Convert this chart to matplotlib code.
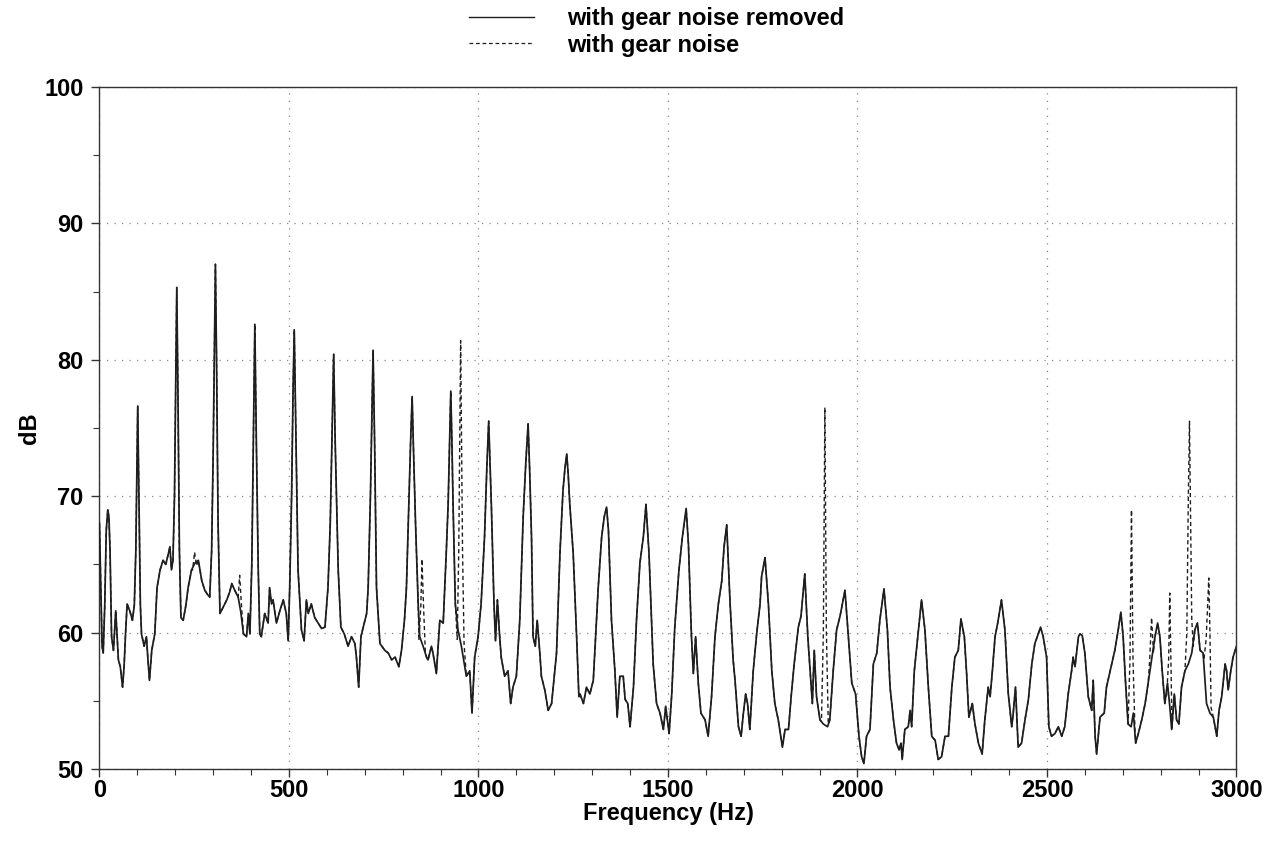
import matplotlib
matplotlib.use("Agg")
import matplotlib.pyplot as plt
from matplotlib.ticker import MultipleLocator
from matplotlib.lines import Line2D

# ---------------- data ----------------
freq_removed = [
    0, 4, 7, 10, 14, 18, 22, 25, 28, 32, 37, 43, 47, 50, 55, 61, 65, 69, 73, 80, 87, 92, 96, 101, 105, 108,
    111, 118, 124, 128, 132, 138, 146, 152, 160, 168, 175, 182, 186, 190, 194, 198, 201, 204, 207, 211, 215,
    221, 228, 234, 243, 252, 261, 270, 278, 285, 291, 296, 300, 303, 306, 309, 313, 318, 327, 336, 344, 349,
    357, 366, 373, 380, 388, 393, 397, 402, 406, 410, 414, 419, 423,
    427, 436, 445, 449, 454, 458, 467, 476, 485, 493, 498, 502, 507, 511, 514, 518, 524, 533, 540, 546, 551,
    559, 568, 577, 586, 595, 603, 609, 614, 618, 622, 630, 637, 646, 656, 665, 674, 678, 684, 690, 696, 705,
    709, 715, 719, 722, 726, 731, 740, 753, 762, 771, 780, 790, 797, 805, 810, 817, 821, 825, 829, 834, 841,
    845, 854, 863, 867, 876, 880, 889, 898, 907, 915, 920, 924, 927, 930, 933, 939, 946, 955, 968, 977, 983,
    990, 999, 1007, 1016, 1022, 1027, 1031, 1034, 1041, 1045, 1050, 1056, 1060, 1069, 1078, 1085, 1091, 1100,
    1109, 1118, 1125, 1131, 1135, 1140, 1144, 1150, 1155, 1162, 1166, 1175, 1184, 1193, 1206, 1215, 1223,
    1228, 1233, 1237, 1241, 1250, 1259, 1265,
    1268, 1277, 1285, 1294, 1303, 1309, 1316, 1325, 1332, 1338, 1343, 1351, 1360, 1366, 1373, 1382, 1387,
    1394, 1400, 1409, 1417, 1426, 1435, 1442, 1450, 1461, 1470, 1479, 1488, 1494, 1503, 1510, 1518, 1529,
    1538, 1548, 1554, 1562, 1567, 1573, 1580, 1587, 1598, 1606, 1615, 1624, 1633, 1642, 1648, 1655, 1664,
    1672, 1677, 1686,
    1693, 1699, 1705, 1710, 1716, 1725, 1734, 1743, 1747, 1756, 1765, 1774, 1782, 1791, 1802, 1809, 1818,
    1825, 1833, 1844, 1851, 1861, 1869, 1875, 1881, 1886, 1892, 1901, 1910, 1921, 1927, 1936, 1945, 1954,
    1967, 1976, 1985, 1995, 2004, 2011, 2017, 2024, 2033, 2042, 2051, 2059, 2070, 2079, 2086, 2095, 2103,
    2110, 2115, 2118, 2125, 2134, 2139, 2143, 2150, 2159, 2169, 2178, 2187, 2196, 2205, 2213, 2222, 2231,
    2240, 2249, 2257, 2266, 2273, 2282, 2288, 2294, 2303, 2310, 2319, 2329, 2336, 2345, 2350, 2356, 2363,
    2370, 2380, 2389, 2398, 2407, 2411, 2417, 2424, 2433, 2442, 2451, 2460, 2468, 2477, 2483, 2490, 2499,
    2505, 2512, 2521,
    2530, 2539, 2547, 2556, 2565, 2569, 2574, 2583, 2587, 2593, 2600, 2609, 2618, 2622, 2627, 2631, 2640,
    2651, 2657, 2671, 2679, 2688, 2695, 2701, 2707, 2714, 2722, 2728, 2734, 2741, 2750, 2759, 2767, 2776,
    2785, 2792, 2798, 2804, 2811, 2818, 2824, 2829, 2836, 2842, 2848, 2855, 2864, 2873, 2882, 2890, 2897,
    2904, 2912, 2921, 2930, 2939, 2948, 2954, 2961, 2970, 2974, 2978, 2985, 2991, 3000,
]
db_removed = [
    68.0, 63.0, 59.0, 58.5, 62.0, 67.5, 69.0, 68.5, 66.0, 59.7, 58.7, 61.6, 59.5, 58.0, 57.5, 56.0, 57.5, 60.0,
    62.1, 61.6, 60.9, 62.0, 66.0, 76.6, 68.0, 62.0,
    59.9, 59.0, 59.7, 58.0, 56.5, 58.7, 59.9, 63.3, 64.6, 65.3, 65.0, 65.8, 66.3, 64.6, 65.3, 70.0, 78.0,
    85.3, 78.0, 66.0, 61.1,
    60.9, 62.0, 63.3, 64.6, 65.1, 65.3, 63.8, 63.1, 62.8, 62.6, 66.0, 73.0, 80.0, 87.0, 80.0, 68.0, 61.4,
    61.9, 62.4, 63.0, 63.6,
    63.1, 62.6, 61.5, 59.9, 59.7, 61.4, 59.9, 65.0, 74.0, 82.6, 74.0, 64.6, 59.9,
    59.7, 61.4, 60.7, 63.3, 62.1, 62.4, 60.7, 61.6, 62.4, 61.4, 59.4, 63.3, 70.0, 78.0, 82.2, 75.0, 64.6,
    60.2, 59.4, 62.4, 61.4,
    62.1, 61.1, 60.7, 60.3, 60.4, 63.3, 68.0, 75.0, 80.4, 74.0, 64.6, 60.4, 59.9, 59.0, 59.7, 59.2, 58.2,
    56.0, 59.7, 60.4, 61.4,
    63.3, 70.0, 76.0, 80.7, 74.0, 63.3, 59.2, 58.7, 58.5, 58.0, 58.2, 57.5, 58.7, 61.0, 63.3, 70.0, 74.0,
    77.3, 73.0, 68.0, 62.1,
    59.7, 59.0, 58.2, 58.0, 59.0, 58.5, 57.0, 60.9, 60.7, 65.8, 69.4, 74.0, 77.7, 74.0, 69.4, 62.1, 60.2,
    59.0, 56.8, 57.2, 54.1,
    58.2, 59.7, 62.1, 67.0, 72.0, 75.5, 72.0, 69.4, 62.1, 59.4, 62.4, 59.7, 58.2, 56.8, 57.2, 54.8, 56.0, 56.8,
    60.9, 68.5, 72.5, 75.3, 72.0, 67.0, 59.7, 59.0, 60.9, 58.5, 56.8, 55.8, 54.3, 54.8, 58.5, 65.8, 70.4,
    72.0, 73.1, 71.5, 69.4, 65.8, 59.7, 55.3,
    55.5, 54.8, 56.0, 55.5, 56.5, 59.7, 63.3, 67.0, 68.5, 69.2, 67.5, 60.9, 57.2, 53.8, 56.8, 56.8, 55.1,
    54.8, 53.1, 56.0, 60.9, 65.1, 67.0, 69.4, 65.8, 57.7, 54.8, 54.1, 52.9, 54.6, 52.6, 55.5, 60.4, 64.6,
    67.0, 69.1, 66.5, 59.7, 57.0, 59.7, 56.3, 54.1, 53.6, 52.4, 55.3, 59.7, 62.1, 63.8, 66.3, 67.9, 62.1,
    58.0, 56.5, 53.1,
    52.4, 54.1, 55.5, 54.8, 52.9, 57.2, 59.9, 62.1, 64.1, 65.5, 62.1, 57.2, 54.8, 53.6, 51.6, 52.9, 52.9,
    55.3, 57.7, 60.4, 61.2, 64.3, 59.7, 57.2, 54.8, 58.7, 55.3, 53.6, 53.3, 53.1, 53.6, 57.2, 60.2, 61.2,
    63.1, 59.7, 56.3, 55.5, 52.4, 50.9, 50.4, 52.4, 52.9, 57.7, 58.5, 60.9, 63.2, 60.2, 56.0, 53.6, 51.9,
    51.4, 51.9, 50.7, 52.9, 53.1, 54.3, 53.1, 57.2, 59.7, 62.4, 60.2, 56.0, 52.4, 52.1, 50.7, 50.9, 52.4,
    52.4, 56.0, 58.2, 58.7, 61.0, 59.7, 57.0, 53.8, 54.8, 53.3, 51.9, 51.1, 53.6, 56.0, 55.3, 57.2, 59.7,
    60.7, 62.4, 60.2, 55.5, 53.1, 54.1, 56.0, 51.6, 51.9, 53.6, 55.1, 57.7, 59.2, 59.9, 60.4, 59.7, 58.2,
    53.1, 52.4, 52.6,
    53.1, 52.4, 53.1, 55.5, 57.2, 58.2, 57.5, 59.7, 59.9, 59.8, 58.5, 55.3, 54.3, 56.5, 52.4, 51.1, 53.8,
    54.1, 56.0, 57.7, 58.7, 60.2, 61.5, 59.7, 56.5, 53.3, 53.1, 54.1, 51.9, 52.6, 53.6, 54.8, 56.3, 58.0,
    59.7, 60.7, 59.7, 57.2, 54.8, 56.3, 54.6, 52.9, 55.5, 53.6, 53.3, 56.0, 57.2, 57.7, 58.5, 60.2, 60.7,
    58.7, 58.5, 54.8, 54.1, 53.8, 52.4, 54.3, 55.3, 57.7, 57.2, 55.8, 57.2, 58.2, 59.0,
]

# gear-mesh spikes present only in the "with gear noise" trace
gear_freq_1 = [246, 251, 256]
gear_db_1 = [64.6, 65.9, 64.9]
gear_freq_2 = [366, 370, 374]
gear_db_2 = [62.6, 64.2, 62.3]
gear_freq_3 = [843, 848, 851, 855, 860]
gear_db_3 = [59.5, 62.0, 65.4, 62.0, 58.5]
gear_freq_4 = [939, 944, 948, 951, 953, 955, 958, 962, 968]
gear_db_4 = [62.1, 59.5, 66.0, 75.0, 81.4, 75.0, 66.0, 59.2, 56.8]
gear_freq_5 = [1905, 1910, 1914, 1918, 1923]
gear_db_5 = [53.5, 60.0, 76.5, 60.0, 53.3]
gear_freq_6 = [2714, 2719, 2723, 2727, 2732]
gear_db_6 = [53.3, 58.0, 69.0, 58.0, 53.0]
gear_freq_7 = [2771, 2776, 2781]
gear_db_7 = [58.0, 61.1, 58.5]
gear_freq_8 = [2816, 2821, 2824, 2827, 2830]
gear_db_8 = [55.5, 58.0, 62.9, 58.0, 53.0]
gear_freq_9 = [2864, 2869, 2873, 2876, 2879, 2882, 2886]
gear_db_9 = [57.2, 60.0, 70.0, 75.5, 68.0, 61.0, 59.0]
gear_freq_10 = [2914, 2920, 2924, 2927, 2930, 2933]
gear_db_10 = [58.0, 59.5, 62.0, 64.0, 60.0, 54.5]

legend_labels = ["with gear noise removed", "with gear noise"]
x_label = "Frequency (Hz)"
y_label = "dB"

# ---------------- build the "with gear noise" trace ----------------
segments = [
    (gear_freq_1, gear_db_1), (gear_freq_2, gear_db_2), (gear_freq_3, gear_db_3),
    (gear_freq_4, gear_db_4), (gear_freq_5, gear_db_5), (gear_freq_6, gear_db_6),
    (gear_freq_7, gear_db_7), (gear_freq_8, gear_db_8), (gear_freq_9, gear_db_9),
    (gear_freq_10, gear_db_10),
]
pairs = []
for f, d in zip(freq_removed, db_removed):
    if not any(min(sf) <= f <= max(sf) for sf, _ in segments):
        pairs.append((f, d))
for sf, sd in segments:
    pairs.extend(zip(sf, sd))
pairs.sort(key=lambda p: p[0])
freq_gear = [p[0] for p in pairs]
db_gear = [p[1] for p in pairs]

# ---------------- fonts ----------------
plt.rcParams["font.family"] = ["Liberation Sans", "DejaVu Sans"]
plt.rcParams["font.weight"] = "bold"
FS = 17

# ---------------- figure ----------------
fig = plt.figure(figsize=(12.7, 8.46), dpi=100)
ax = fig.add_axes([0.0783, 0.091, 0.8953, 0.8062])

line_col = "#1e1e1e"
ax.plot(freq_gear, db_gear, color=line_col, lw=1.0, linestyle=(0, (3.0, 2.2)), zorder=2)
ax.plot(freq_removed, db_removed, color=line_col, lw=1.25, zorder=3)

ax.set_xlim(0, 3000)
ax.set_ylim(50, 100)
ax.xaxis.set_major_locator(MultipleLocator(500))
ax.xaxis.set_minor_locator(MultipleLocator(100))
ax.yaxis.set_major_locator(MultipleLocator(10))
ax.yaxis.set_minor_locator(MultipleLocator(5))
ax.tick_params(which="major", direction="out", length=6, width=1, color="#333",
               labelsize=FS)
ax.tick_params(axis="x", which="major", pad=1)
ax.tick_params(axis="y", which="major", pad=5.5)
ax.tick_params(which="minor", direction="out", length=4, width=0.8, color="#333")
for lab in ax.get_xticklabels() + ax.get_yticklabels():
    lab.set_fontweight("bold")

ax.grid(True, which="major", color="#888888", linestyle=(0, (1, 5)), linewidth=0.9)
for s in ax.spines.values():
    s.set_linewidth(1.0)
    s.set_color("#333")

ax.set_xlabel(x_label, fontsize=FS, fontweight="bold", labelpad=0)
ax.set_ylabel(y_label, fontsize=FS, fontweight="bold", labelpad=2)

handles = [
    Line2D([], [], color=line_col, lw=1.0),
    Line2D([], [], color=line_col, lw=0.9, linestyle=(0, (3.0, 2.2))),
]
fig.legend(handles, legend_labels, loc="upper left", bbox_to_anchor=(0.364, 1.0),
           frameon=False, handlelength=2.75, handletextpad=1.4,
           labelspacing=0.15, borderaxespad=0.0, borderpad=0.3,
           prop={"weight": "bold", "size": FS})

fig.savefig("out.png", dpi=100)
